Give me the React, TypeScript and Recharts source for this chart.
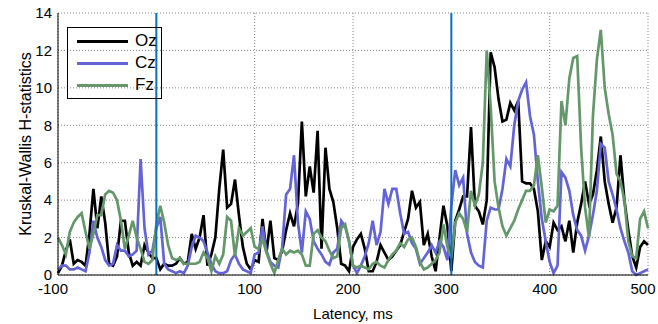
import { LineChart, Line, XAxis, YAxis, CartesianGrid, ReferenceLine, Legend } from 'recharts';

// sampling grid, 4 ms step from -100 to 500
const latency = Array.from({ length: 151 }, (_, i) => -100 + i * 4);

const oz = [
  0.1, 0.5, 1.3, 1.9, 0.6, 0.8, 0.7, 0.5, 2.2, 4.6,
  2.5, 4.2, 2.8, 0.6, 0.5, 1.0, 2.9, 2.9, 1.2, 0.5,
  0.7, 0.5, 1.6, 1.2, 0.9, 0.9, 0.3, 0.6, 0.5, 0.5,
  0.6, 0.9, 0.6, 0.7, 2.2, 1.4, 2.0, 3.2, 0.5, 1.1,
  2.0, 4.6, 6.7, 3.6, 3.8, 5.1, 3.2, 1.5, 0.6, 0.3,
  0.8, 0.7, 3.0, 1.2, 2.9, 0.9, 0.8, 1.3, 2.4, 3.3,
  2.6, 3.8, 8.2, 4.2, 5.8, 4.4, 7.7, 1.4, 6.8, 4.6,
  3.9, 2.5, 0.6, 0.5, 0.2, 1.5, 1.9, 2.2, 1.4, 0.2,
  0.2, 0.7, 1.6, 1.2, 0.8, 1.0, 1.3, 1.6, 2.3, 3.0,
  4.5, 3.6, 3.9, 1.6, 2.2, 1.0, 0.2, 2.0, 3.7, 2.6,
  0.2, 2.9, 3.5, 4.2, 4.2, 7.9, 3.7, 3.4, 2.7, 4.0,
  11.9, 11.1, 9.4, 8.2, 8.3, 9.2, 8.8, 9.3, 5.0, 4.9,
  4.9, 4.6, 3.4, 0.8, 1.8, 1.5, 2.8, 2.4, 2.6, 1.8,
  2.9, 1.2, 2.8, 3.8, 5.0, 3.8, 4.3, 5.6, 7.4, 5.0,
  3.8, 2.8, 3.6, 6.4, 4.0, 2.4, 1.0, 0.4, 1.5, 1.8,
  1.6,
];

const cz = [
  0.3, 0.5, 0.5, 0.3, 0.3, 0.4, 0.3, 0.2, 1.2, 2.9,
  2.0, 1.5, 0.8, 0.5, 0.6, 1.6, 1.3, 1.3, 1.0, 1.1,
  1.3, 6.2, 2.5, 1.1, 1.3, 2.5, 3.1, 0.6, 0.3, 0.2,
  0.1, 0.2, 0.1, 0.5, 1.5, 2.1, 2.0, 1.8, 1.2, 0.6,
  0.2, 0.1, 0.1, 0.2, 0.8, 1.1, 0.6, 0.3, 0.2, 0.1,
  1.1, 1.2, 2.6, 1.3, 0.7, 0.5, 0.4, 1.5, 4.3, 4.6,
  6.4, 2.8, 1.2, 3.4, 3.0, 1.8, 1.4, 1.1, 0.7, 0.55,
  1.2, 1.4, 2.9, 2.6, 1.8, 0.5, 0.1, 0.5, 1.0, 1.7,
  2.9, 1.6, 2.3, 4.6, 3.8, 4.6, 4.6, 3.3, 2.2, 2.3,
  1.7, 1.4, 0.6, 0.9, 1.2, 1.6, 1.2, 1.8, 1.5, 0.8,
  3.7, 5.6, 4.8, 5.2, 2.2, 1.2, 0.7, 0.5, 0.4, 2.9,
  3.6, 3.5, 3.5, 4.6, 6.2, 5.8, 8.0, 9.3, 9.9, 10.3,
  8.5, 7.5, 5.0, 3.0, 1.8, 0.7, 0.1, 0.5, 5.5, 5.2,
  4.5, 3.2, 2.4, 2.1, 1.3, 2.1, 3.2, 4.5, 7.0, 6.8,
  5.0, 4.3, 3.5, 2.5, 1.8, 1.2, 0.2, 0.0, 0.1, 0.2,
  0.3,
];

const fz = [
  2.0, 1.6, 1.1, 2.3, 2.8, 3.1, 3.3, 2.3, 1.4, 2.2,
  3.2, 3.2, 4.3, 4.5, 4.4, 4.0, 2.9, 1.4, 2.1, 2.9,
  2.0, 1.4, 0.7, 0.6, 0.8, 2.7, 3.7, 2.8, 1.6, 0.9,
  0.8, 0.9, 0.6, 0.6, 0.6, 0.6, 0.7, 1.2, 0.9, 0.2,
  1.0, 0.6, 1.1, 3.1, 2.9, 1.0, 2.5, 2.1, 2.3, 2.5,
  1.5, 1.4, 1.9, 1.2, 0.6, 0.1, 0.8, 1.4, 1.1, 1.3,
  1.2, 1.3, 1.1, 0.5, 0.5, 2.2, 2.4, 2.0, 1.8, 1.3,
  0.9, 1.0, 2.5, 2.7, 1.8, 0.5, 0.4, 0.5, 0.4, 0.3,
  0.6, 0.7, 0.5, 0.4, 0.8, 1.1, 1.3, 1.7, 1.5, 1.9,
  2.0, 1.5, 0.7, 0.3, 0.4, 0.6, 0.8, 1.2, 2.7, 1.5,
  0.9, 2.8, 3.3, 3.0, 2.3, 4.5, 3.7, 4.3, 6.0, 12.0,
  9.0, 5.0, 3.6, 2.6, 2.1, 2.5, 2.9, 3.5, 4.0, 4.5,
  4.5, 4.8, 6.4, 4.7, 2.8, 3.5, 3.4, 3.7, 9.3, 8.0,
  10.5, 11.6, 11.7, 6.8, 3.6, 2.0, 8.5, 11.5, 13.1, 10.0,
  8.6, 7.5, 5.4, 5.0, 4.0, 1.8, 1.0, 0.9, 3.0, 3.4,
  2.5,
];

const xTicks = [-100, 0, 100, 200, 300, 400, 500];
const yTicks = [0, 2, 4, 6, 8, 10, 12, 14];
const markers = [0, 300];

const SERIES = [
  { key: 'Oz', color: '#000000' },
  { key: 'Cz', color: '#6464d6' },
  { key: 'Fz', color: '#64976a' },
];

const data = latency.map((t, i) => ({ t, Oz: oz[i], Cz: cz[i], Fz: fz[i] }));

const FONT = '"Liberation Sans", Arial, sans-serif';

function ChannelLegend() {
  return (
    <div
      style={{
        border: '1px solid #000',
        width: 95,
        height: 72,
        boxSizing: 'border-box',
        paddingTop: 2,
        fontFamily: FONT,
      }}
    >
      {SERIES.map((s) => (
        <div key={s.key} style={{ display: 'flex', alignItems: 'center', height: 22 }}>
          <span style={{ display: 'inline-block', width: 51, height: 3, background: s.color, marginLeft: 9 }} />
          <span style={{ marginLeft: 7, fontSize: 17, color: '#000', lineHeight: '22px' }}>{s.key}</span>
        </div>
      ))}
    </div>
  );
}

export default function App() {
  return (
    <div style={{ fontFamily: FONT, position: 'absolute', left: 8, top: 8 }}>
      <LineChart width={650} height={316} data={data} margin={{ top: 5, right: 10, bottom: 0, left: 0 }}>
        <CartesianGrid stroke="#888" strokeDasharray="1 2" />
        <XAxis
          dataKey="t"
          type="number"
          domain={[-100, 500]}
          ticks={xTicks}
          interval={0}
          height={49}
          tickLine={false}
          tickSize={8}
          tickMargin={0}
          axisLine={{ stroke: '#000' }}
          tick={{ fill: '#000', fontSize: 15, dx: -5 }}
          label={{ value: 'Latency, ms', position: 'insideBottom', offset: 5, style: { fill: '#000', fontSize: 15 } }}
        />
        <XAxis xAxisId="top" orientation="top" type="number" domain={[-100, 500]} height={0} tick={false} tickLine={false} axisLine={{ stroke: '#000' }} />
        <YAxis
          type="number"
          domain={[0, 14]}
          ticks={yTicks}
          interval={0}
          width={50}
          tickLine={false}
          tickSize={6}
          tickMargin={0}
          axisLine={{ stroke: '#000' }}
          tick={{ fill: '#000', fontSize: 15 }}
          label={{
            value: 'Kruskal-Wallis H-statistics',
            angle: -90,
            position: 'insideLeft',
            offset: 17,
            style: { textAnchor: 'middle', fill: '#000', fontSize: 16 },
          }}
        />
        <YAxis yAxisId="right" orientation="right" type="number" domain={[0, 14]} width={0} tick={false} tickLine={false} axisLine={{ stroke: '#000' }} />
        {SERIES.map((s) => (
          <Line
            key={s.key}
            type="linear"
            dataKey={s.key}
            stroke={s.color}
            strokeWidth={2.7}
            dot={false}
            isAnimationActive={false}
          />
        ))}
        {markers.map((m) => (
          <ReferenceLine key={m} x={m} stroke="#0b6fc2" strokeWidth={2} />
        ))}
        <Legend
          layout="horizontal"
          verticalAlign="middle"
          align="center"
          content={<ChannelLegend />}
          wrapperStyle={{ left: 59, top: 19, width: 95, height: 72 }}
        />
      </LineChart>
    </div>
  );
}
